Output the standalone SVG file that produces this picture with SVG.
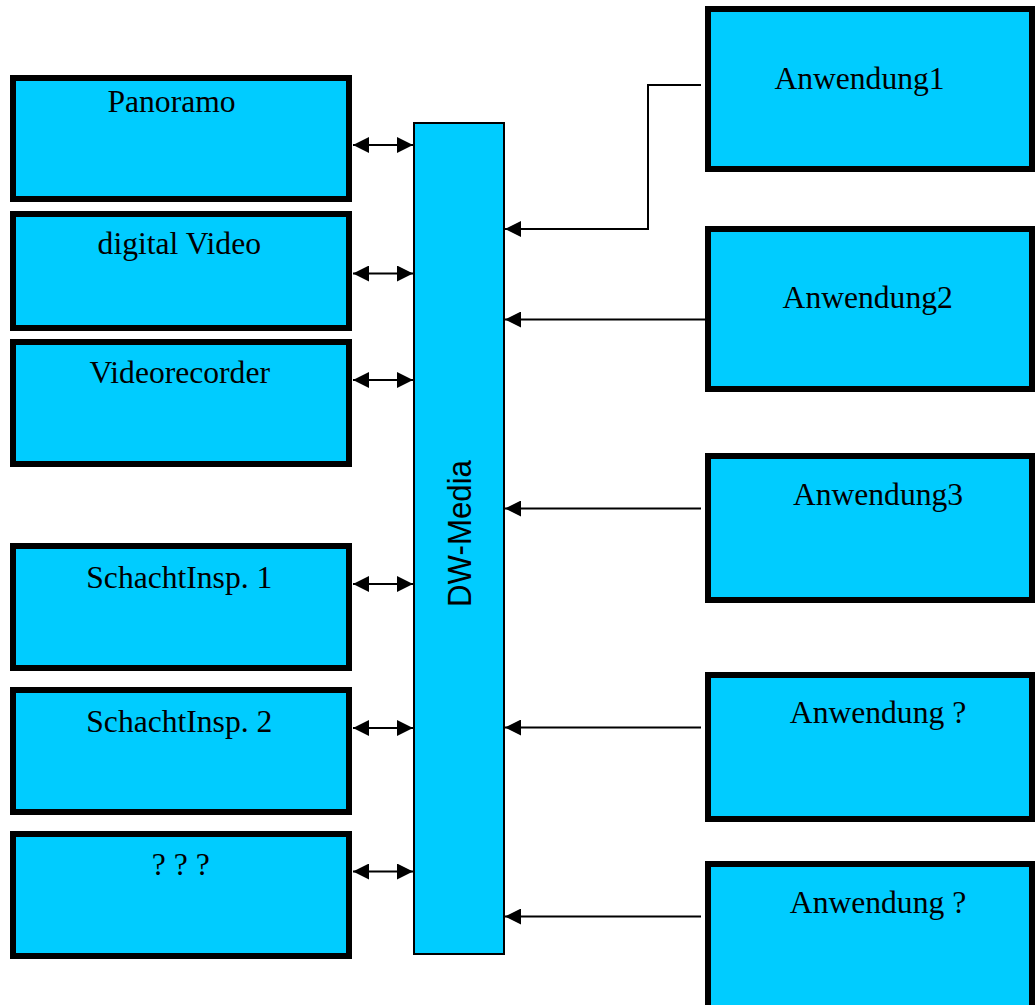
<svg xmlns="http://www.w3.org/2000/svg" width="1035" height="1005" viewBox="0 0 1035 1005">
<style>
  .box { fill: #00CCFF; stroke: #000; stroke-width: 6; }
  .bar { fill: #00CCFF; stroke: #000; stroke-width: 2; }
  .lbl { font-family: "Liberation Serif", "Times New Roman", serif; font-size: 31.6px; fill: #000; text-anchor: middle; }
  .bartxt { font-family: "Liberation Sans", Arial, sans-serif; font-size: 33px; fill: #000; text-anchor: middle; }
  .conn { fill: none; stroke: #000; stroke-width: 2; }
</style>
<defs>
  <marker id="ah" markerUnits="userSpaceOnUse" markerWidth="16" markerHeight="16" refX="16" refY="8" orient="auto-start-reverse" viewBox="0 0 16 16">
    <path d="M0,0 L16,8 L0,16 Z" fill="#000"/>
  </marker>
</defs>
<rect width="1035" height="1005" fill="#fff"/>

<g id="dw-media">
  <rect class="bar" x="414" y="123" width="90" height="831"/>
  <text class="bartxt" transform="translate(471,533.5) rotate(-90)" textLength="147" lengthAdjust="spacingAndGlyphs">DW-Media</text>
</g>

<g id="panoramo">
  <rect class="box" x="13" y="78" width="336" height="121"/>
  <text class="lbl" x="171.5" y="112">Panoramo</text>
</g>
<g id="digital-video">
  <rect class="box" x="13" y="214" width="336" height="114"/>
  <text class="lbl" x="179.3" y="254">digital Video</text>
</g>
<g id="videorecorder">
  <rect class="box" x="13" y="342" width="336" height="122"/>
  <text class="lbl" x="179.7" y="383">Videorecorder</text>
</g>
<g id="schacht1">
  <rect class="box" x="13" y="546" width="336" height="122"/>
  <text class="lbl" x="179.3" y="588">SchachtInsp. 1</text>
</g>
<g id="schacht2">
  <rect class="box" x="13" y="690" width="336" height="122"/>
  <text class="lbl" x="179.3" y="731.5">SchachtInsp. 2</text>
</g>
<g id="unknown">
  <rect class="box" x="13" y="834" width="336" height="122"/>
  <text class="lbl" x="180.8" y="875">? ? ?</text>
</g>

<g id="anwendung1">
  <rect class="box" x="708" y="9" width="324" height="160"/>
  <text class="lbl" x="859.5" y="89">Anwendung1</text>
</g>
<g id="anwendung2">
  <rect class="box" x="708" y="229" width="324" height="160"/>
  <text class="lbl" x="867.7" y="308">Anwendung2</text>
</g>
<g id="anwendung3">
  <rect class="box" x="708" y="456" width="324" height="144"/>
  <text class="lbl" x="878" y="505">Anwendung3</text>
</g>
<g id="anwendung4">
  <rect class="box" x="708" y="675" width="324" height="144"/>
  <text class="lbl" x="878" y="723">Anwendung ?</text>
</g>
<g id="anwendung5">
  <rect class="box" x="708" y="864" width="324" height="160"/>
  <text class="lbl" x="878" y="913">Anwendung ?</text>
</g>

<g id="connectors">
  <line class="conn" x1="353" y1="145" x2="413" y2="145" marker-start="url(#ah)" marker-end="url(#ah)"/>
  <line class="conn" x1="353" y1="273.5" x2="413" y2="273.5" marker-start="url(#ah)" marker-end="url(#ah)"/>
  <line class="conn" x1="353" y1="380" x2="413" y2="380" marker-start="url(#ah)" marker-end="url(#ah)"/>
  <line class="conn" x1="353" y1="584" x2="413" y2="584" marker-start="url(#ah)" marker-end="url(#ah)"/>
  <line class="conn" x1="353" y1="728" x2="413" y2="728" marker-start="url(#ah)" marker-end="url(#ah)"/>
  <line class="conn" x1="353" y1="871.5" x2="413" y2="871.5" marker-start="url(#ah)" marker-end="url(#ah)"/>

  <path class="conn" d="M701,85 H648 V229 H505" marker-end="url(#ah)"/>
  <path class="conn" d="M705,319.5 H505" marker-end="url(#ah)"/>
  <path class="conn" d="M701,508.5 H505" marker-end="url(#ah)"/>
  <path class="conn" d="M701,727.5 H505" marker-end="url(#ah)"/>
  <path class="conn" d="M701,916.5 H505" marker-end="url(#ah)"/>
</g>
</svg>
